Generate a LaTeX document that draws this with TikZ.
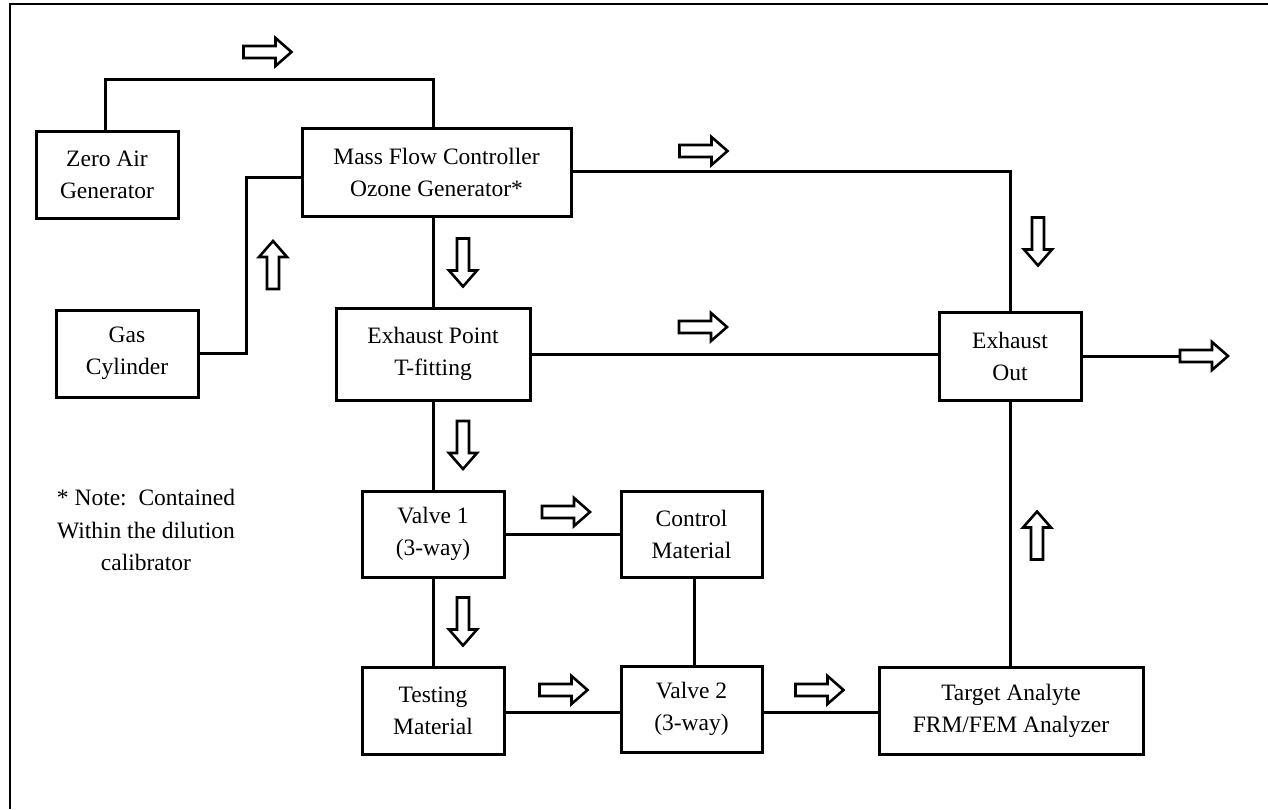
\documentclass[tikz,border=0pt]{standalone}
\usepackage{fontspec}
\setmainfont{Liberation Serif}
\usetikzlibrary{calc}
\tikzset{
  x=1pt, y=-1pt,
  box/.style={draw, line width=3pt, rectangle, align=center, inner sep=0pt,
              font=\fontsize{23.5pt}{32pt}\selectfont},
  pipe/.style={line width=3pt},
  flowarrow/.pic={
    \draw[line width=2.6pt, miter limit=10] (-24,-6) -- (8,-6) -- (8,-14) -- (24,0) -- (8,14) -- (8,6) -- (-24,6) -- cycle;
  }
}
\begin{document}
\begin{tikzpicture}
\useasboundingbox (0,0) rectangle (1268,809);
% frame (only top and left edges visible)
\draw[line width=1.6pt] (10,809) -- (10,4) -- (1268,4);

% boxes
\node[box, minimum width=142, minimum height=87] (zero)   at (107,174.5) {Zero Air\\Generator};
\node[box, minimum width=269, minimum height=88] (mfc)    at (436.5,172) {Mass Flow Controller\\Ozone Generator*};
\node[box, minimum width=142, minimum height=87] (gas)    at (127,353.5) {Gas\\Cylinder};
\node[box, minimum width=194, minimum height=92] (tfit)   at (433,354) {Exhaust Point\\T-fitting};
\node[box, minimum width=142, minimum height=88] (exout)  at (1010,356) {Exhaust\\Out};
\node[box, minimum width=142, minimum height=86] (v1)     at (433,534) {Valve 1\\(3-way)};
\node[box, minimum width=141, minimum height=86] (ctrl)   at (691.5,534) {Control\\Material};
\node[box, minimum width=142, minimum height=87] (test)   at (433,710.5) {Testing\\Material};
\node[box, minimum width=141, minimum height=86] (v2)     at (691.5,709) {Valve 2\\(3-way)};
\node[box, minimum width=264, minimum height=87] (target) at (1011,710.5) {Target Analyte\\FRM/FEM Analyzer};

\node[align=center, inner sep=0pt, font=\fontsize{23.5pt}{32.5pt}\selectfont] (note) at (146,530)
  {* Note:\ \ Contained\\Within the dilution\\calibrator};

% connectors
\coordinate (topy) at (0,79);
\draw[pipe] (zero.north -| 105,0) |- (topy -| 433,0) -- (mfc.north -| 433,0);
\draw[pipe] (mfc.south -| tfit.north) -- (tfit.north);
\coordinate (gk) at (246,353.5);
\draw[pipe] ($(mfc.west)+(0,5)$) -| (gk) -- (gas.east);
\draw[pipe] ($(mfc.east)+(0,-1)$) -| (exout.north);
\draw[pipe] (tfit.east) -- (tfit.east -| exout.west);
\coordinate (outend) at (1180,356);
\draw[pipe] (exout.east) -- (outend);
\draw[pipe] (target.north -| exout.south) -- (exout.south);
\draw[pipe] (tfit.south) -- (v1.north);
\draw[pipe] (v1.east) -- (ctrl.west);
\draw[pipe] (v1.south) -- (test.north);
\draw[pipe] ($(ctrl.south)+(2.5,0)$) -- ($(v2.north)+(2.5,0)$);
\draw[pipe] ($(test.east)+(0,1.5)$) -- ($(v2.west)+(0,3)$);
\draw[pipe] ($(v2.east)+(0,3)$) -- ($(target.west)+(0,1.5)$);

% flow arrows
\pic at (267.5,52) {flowarrow};
\pic at (703.5,151) {flowarrow};
\pic[rotate=-90] at (463,262.5) {flowarrow};
\pic[rotate=90] at (273,265) {flowarrow};
\pic[rotate=-90] at (1038,241.5) {flowarrow};
\pic at (703,327) {flowarrow};
\pic at (1204,356) {flowarrow};
\pic[rotate=-90] at (463,445) {flowarrow};
\pic[rotate=90] at (1037,535.5) {flowarrow};
\pic at (566,512) {flowarrow};
\pic[rotate=-90] at (463,621.5) {flowarrow};
\pic at (563.5,690) {flowarrow};
\pic at (819.5,690) {flowarrow};
\end{tikzpicture}
\end{document}
